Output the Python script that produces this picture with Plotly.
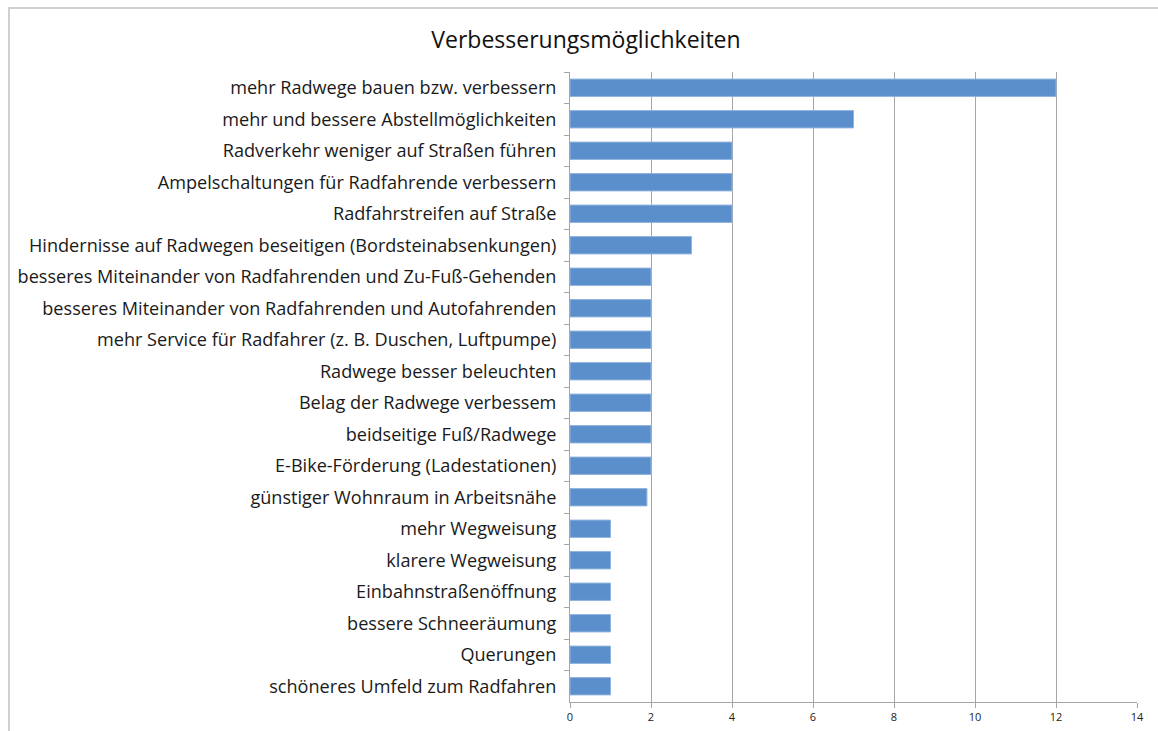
import plotly.graph_objects as go

categories = [
    "mehr Radwege bauen bzw. verbessern",
    "mehr und bessere Abstellmöglichkeiten",
    "Radverkehr weniger auf Straßen führen",
    "Ampelschaltungen für Radfahrende verbessern",
    "Radfahrstreifen auf Straße",
    "Hindernisse auf Radwegen beseitigen (Bordsteinabsenkungen)",
    "besseres Miteinander von Radfahrenden und Zu-Fuß-Gehenden",
    "besseres Miteinander von Radfahrenden und Autofahrenden",
    "mehr Service für Radfahrer (z. B. Duschen, Luftpumpe)",
    "Radwege besser beleuchten",
    "Belag der Radwege verbessem",
    "beidseitige Fuß/Radwege",
    "E-Bike-Förderung (Ladestationen)",
    "günstiger Wohnraum in Arbeitsnähe",
    "mehr Wegweisung",
    "klarere Wegweisung",
    "Einbahnstraßenöffnung",
    "bessere Schneeräumung",
    "Querungen",
    "schöneres Umfeld zum Radfahren",
]
counts = [12, 7, 4, 4, 4, 3, 2, 2, 2, 2, 2, 2, 2, 1.9, 1, 1, 1, 1, 1, 1]
x_ticks = [0, 2, 4, 6, 8, 10, 12, 14]

W, H = 1158, 731
L, R, T, B = 570, 21, 72, 29
plot_w = W - L - R
plot_h = H - T - B

fig = go.Figure(go.Bar(
    x=counts,
    y=categories,
    orientation="h",
    marker=dict(color="#5b8fcb", line=dict(color="#8fb4de", width=1)),
    hoverinfo="x+y",
))

fig.update_layout(
    width=W,
    height=H,
    margin=dict(l=L, r=R, t=T, b=B),
    paper_bgcolor="white",
    plot_bgcolor="white",
    font=dict(family="Open Sans, DejaVu Sans, sans-serif", color="#1a1a1a"),
    bargap=0.45,
    showlegend=False,
    title=dict(
        text="Verbesserungsmöglichkeiten",
        x=586 / W, xanchor="center", xref="container",
        y=1 - 40 / H, yanchor="middle", yref="container",
        font=dict(size=23, color="#111111"),
    ),
    # light grey frame round the whole chart (right and bottom run off the page)
    shapes=[dict(
        type="rect", xref="paper", yref="paper",
        x0=(9 - L) / plot_w, x1=1.2, y0=-0.2, y1=(H - B - 8) / plot_h,
        line=dict(color="#d0d0d0", width=2), layer="below",
    )],
)

fig.update_xaxes(
    range=[0, 14],
    tickvals=x_ticks,
    automargin=False,
    showgrid=True, gridcolor="#a6a6a6", gridwidth=1,
    showline=True, linecolor="#a6a6a6", linewidth=1,
    ticks="outside", ticklen=5, tickcolor="#a6a6a6",
    tickfont=dict(size=11, color="#222222"),
    zeroline=False,
)
fig.update_yaxes(
    autorange="reversed",
    automargin=False,
    showline=True, linecolor="#a6a6a6", linewidth=1,
    ticks="outside", ticklen=5, tickcolor="#a6a6a6",
    tickson="boundaries",
    ticklabelstandoff=9,
    tickfont=dict(size=18.1, color="#1a1a1a"),
    showgrid=False,
)

# drop the default 8px body margin so the figure fills the window exactly
fig.write_html(
    "out.html",
    config={"displayModeBar": False},
    post_script="document.body.style.margin = '0';",
)
